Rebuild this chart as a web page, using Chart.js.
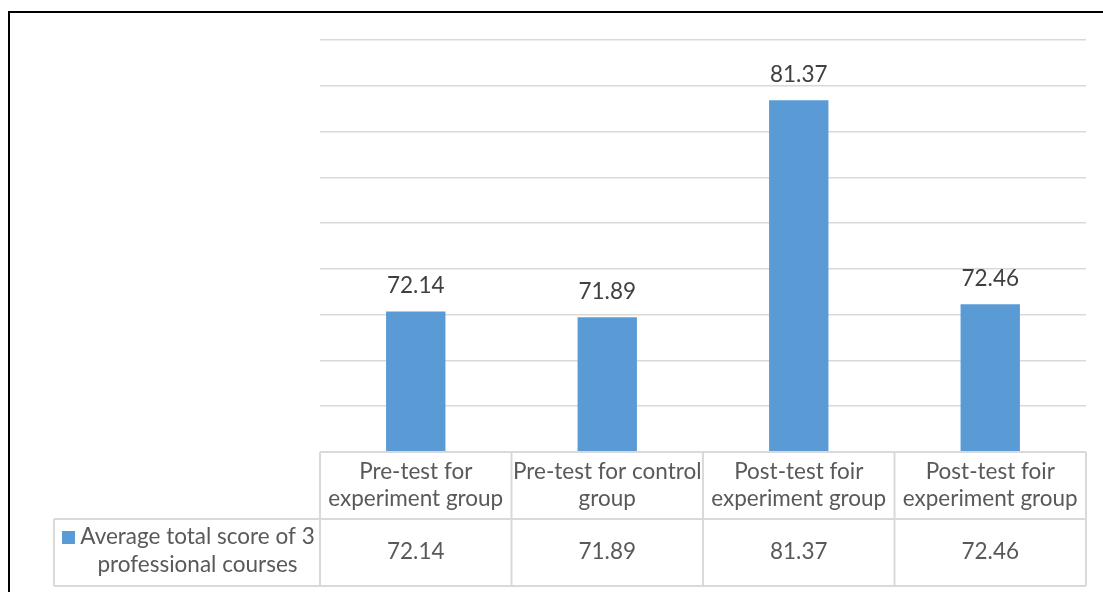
<!DOCTYPE html>
<html>
<head>
<meta charset="utf-8">
<title>Average total score of 3 professional courses</title>
<script src="https://cdn.jsdelivr.net/npm/chart.js@4/dist/chart.umd.min.js"></script>
<style>
  html, body { margin: 0; padding: 0; background: #ffffff; }
  canvas { display: block; }
</style>
</head>
<body>
<canvas id="chart" width="1103" height="592"></canvas>
<script>
// Categories (each entry is the wrapped header text of a table column)
const categories = [
  ['Pre-test for', 'experiment group'],
  ['Pre-test for control', 'group'],
  ['Post-test foir', 'experiment group'],
  ['Post-test foir', 'experiment group']
];
// Series values
const scores = [72.14, 71.89, 81.37, 72.46];
// Series name, wrapped over two lines in the data table
const seriesName = ['Average total score of 3', 'professional courses'];
// Value axis range (labels hidden, gridlines only)
const yMin = 66;
const yMax = 84;
const yStep = 2;

const FONT = '22.5px Lato, "Liberation Sans", sans-serif';
const BAR_COLOR = '#5B9BD5';
const LINE_COLOR = '#D9D9D9';

// Outer frame around the figure
const framePlugin = {
  id: 'frame',
  beforeDraw(chart) {
    const ctx = chart.ctx;
    ctx.save();
    ctx.fillStyle = '#ffffff';
    ctx.fillRect(0, 0, chart.width, chart.height);
    ctx.fillStyle = '#000000';
    ctx.fillRect(8, 11, 2, chart.height - 11);
    ctx.fillRect(8, 11, chart.width - 8, 2);
    ctx.restore();
  }
};

// Value labels above each bar
const valueLabelPlugin = {
  id: 'valueLabels',
  afterDatasetsDraw(chart) {
    const ctx = chart.ctx;
    const meta = chart.getDatasetMeta(0);
    ctx.save();
    ctx.font = FONT;
    ctx.fillStyle = '#404040';
    ctx.textAlign = 'center';
    ctx.textBaseline = 'alphabetic';
    meta.data.forEach((bar, i) => {
      const v = chart.data.datasets[0].data[i];
      ctx.fillText(v.toFixed(2), bar.x, bar.y - 18.5);
    });
    ctx.restore();
  }
};

// Data table under the plot: category headers, legend key and values
const dataTablePlugin = {
  id: 'dataTable',
  afterDraw(chart) {
    const ctx = chart.ctx;
    const area = chart.chartArea;
    const xs = chart.scales.x;
    const n = chart.data.labels.length;
    const colW = (area.right - area.left) / n;
    const top = area.bottom;
    const rowH = 67;
    const mid = top + rowH;
    const bottom = mid + rowH;
    const legendLeft = 54;

    ctx.save();
    ctx.strokeStyle = LINE_COLOR;
    ctx.lineWidth = 2;
    ctx.beginPath();
    // horizontal rules
    ctx.moveTo(area.left, top); ctx.lineTo(area.right, top);
    ctx.moveTo(legendLeft, mid); ctx.lineTo(area.right, mid);
    ctx.moveTo(legendLeft, bottom); ctx.lineTo(area.right, bottom);
    // column separators
    for (let i = 0; i <= n; i++) {
      const x = area.left + i * colW;
      ctx.moveTo(x, top); ctx.lineTo(x, bottom);
    }
    ctx.moveTo(legendLeft, mid); ctx.lineTo(legendLeft, bottom);
    ctx.stroke();

    ctx.font = FONT;
    ctx.fillStyle = '#595959';
    ctx.textAlign = 'center';
    ctx.textBaseline = 'alphabetic';
    const values = chart.data.datasets[0].data;
    chart.data.labels.forEach((lines, i) => {
      const cx = xs.getPixelForValue(i);
      if (lines.length === 2) {
        ctx.fillText(lines[0], cx, top + 27);
        ctx.fillText(lines[1], cx, top + 54);
      } else {
        ctx.fillText(lines[0], cx, top + 40);
      }
      ctx.fillText(values[i].toFixed(2), cx, mid + 40);
    });

    // legend key
    ctx.fillStyle = BAR_COLOR;
    ctx.fillRect(62, mid + 12, 13, 13);
    ctx.fillStyle = '#595959';
    const textCx = (82 + area.left - 7) / 2;
    ctx.fillText(seriesName[0], textCx, mid + 24.5);
    ctx.fillText(seriesName[1], textCx, mid + 53);
    ctx.restore();
  }
};

new Chart(document.getElementById('chart'), {
  type: 'bar',
  data: {
    labels: categories,
    datasets: [{
      label: seriesName.join(' '),
      data: scores,
      backgroundColor: BAR_COLOR,
      borderWidth: 0,
      categoryPercentage: 1,
      barPercentage: 0.31
    }]
  },
  options: {
    responsive: false,
    animation: false,
    events: [],
    layout: { padding: { left: 320, right: 17, top: 40, bottom: 140 } },
    plugins: {
      legend: { display: false },
      tooltip: { enabled: false }
    },
    scales: {
      x: { display: false },
      y: {
        display: true,
        min: yMin,
        max: yMax,
        ticks: { display: false, stepSize: yStep },
        grid: { color: LINE_COLOR, lineWidth: 1.5, drawTicks: false },
        border: { display: false }
      }
    }
  },
  plugins: [framePlugin, valueLabelPlugin, dataTablePlugin]
});
</script>
</body>
</html>
